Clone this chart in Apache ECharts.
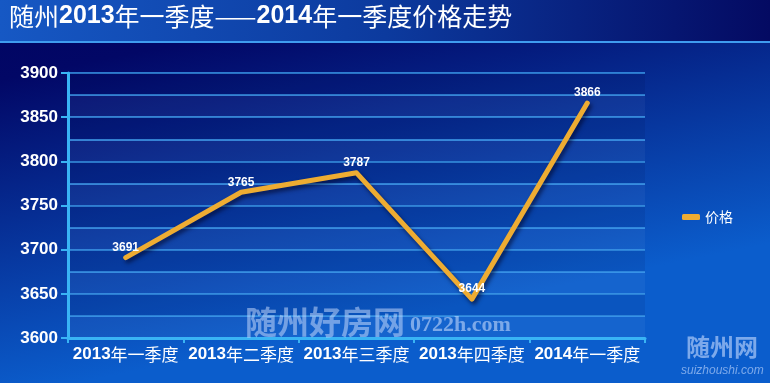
<!DOCTYPE html>
<html>
<head>
<meta charset="utf-8">
<script src="https://cdn.jsdelivr.net/npm/echarts@6/dist/echarts.min.js"></script>
<style>html,body{margin:0;padding:0;background:#000;}#c{width:770px;height:383px;}</style>
</head>
<body>
<div id="c"></div>
<script>
var categories = ['2013年一季度', '2013年二季度', '2013年三季度', '2013年四季度', '2014年一季度'];
var prices = [3691, 3765, 3787, 3644, 3866];
var seriesName = '价格';
var yMin = 3600, yMax = 3900, yStep = 50;

var chart = echarts.init(document.getElementById('c'));
var fontCJK = '"Noto Sans CJK SC", sans-serif';
var fontNum = '"Liberation Sans", Arial, sans-serif';
var lineColor = '#eeac32';

function splitRich(s) {
  var parts = s.match(/\d+|[^\d]+/g);
  return parts.map(function (p) { return /^\d+$/.test(p) ? '{b|' + p + '}' : '{n|' + p + '}'; }).join('');
}

chart.setOption({
  animation: false,
  backgroundColor: {
    type: 'linear', x: 0, y: 0, x2: 0.1, y2: 1,
    colorStops: [
      { offset: 0, color: '#010461' },
      { offset: 0.2, color: '#020766' },
      { offset: 1, color: '#0b5dcc' }
    ]
  },
  graphic: [
    {
      type: 'rect', shape: { x: 0, y: 0, width: 770, height: 42 }, z: -1,
      style: {
        fill: {
          type: 'linear', x: 0, y: 0, x2: 1, y2: 0,
          colorStops: [
            { offset: 0, color: '#1658c4' },
            { offset: 0.5, color: '#0c3a9e' },
            { offset: 1, color: '#040a62' }
          ]
        }
      }
    },
    { type: 'rect', shape: { x: 0, y: 41, width: 770, height: 2 }, z: -1, style: { fill: '#3f9cf0' } },
    {
      type: 'text', left: 9, top: 4,
      style: {
        text: splitRich('随州2013年一季度——2014年一季度价格走势'),
        rich: {
          b: { fontFamily: fontNum, fontWeight: 'bold', fontSize: 25, fill: '#ffffff' },
          n: { fontFamily: fontCJK, fontSize: 25, fill: '#ffffff' }
        }
      }
    },
    {
      type: 'text', left: 245, top: 306, z: 100,
      style: { text: '随州好房网', fontFamily: fontCJK, fontWeight: 'bold', fontSize: 32, fill: 'rgba(210,225,255,0.5)' }
    },
    {
      type: 'text', left: 410, top: 314, z: 100,
      style: { text: '0722h.com', fontFamily: '"Liberation Serif", serif', fontWeight: 'bold', fontSize: 22, fill: 'rgba(210,225,255,0.55)' }
    },
    {
      type: 'text', left: 686, top: 335, z: 100,
      style: { text: '随州网', fontFamily: fontCJK, fontWeight: 'bold', fontSize: 24, fill: 'rgba(200,220,255,0.6)' }
    },
    {
      type: 'text', left: 681, top: 365, z: 100,
      style: { text: 'suizhoushi.com', fontFamily: fontNum, fontStyle: 'italic', fontSize: 12, fill: 'rgba(200,220,255,0.6)' }
    }
  ],
  legend: {
    data: [seriesName],
    orient: 'vertical',
    left: 677, top: 205,
    icon: 'roundRect',
    itemWidth: 18, itemHeight: 6, itemGap: 10,
    itemStyle: { color: lineColor, opacity: 1, borderWidth: 0 },
    textStyle: { color: '#ffffff', fontFamily: fontCJK, fontSize: 14 }
  },
  grid: { left: 68, right: 125, top: 73, bottom: 45, containLabel: false },
  xAxis: {
    type: 'category',
    data: categories,
    boundaryGap: true,
    axisLine: { show: true, lineStyle: { color: '#39b4f5', width: 3 } },
    axisTick: { show: true, length: 5, lineStyle: { color: '#39b4f5', width: 2 } },
    axisLabel: {
      interval: 0, margin: 8,
      formatter: function (v) { return splitRich(v); },
      rich: {
        b: { fontFamily: fontNum, fontWeight: 'bold', fontSize: 17, color: '#ffffff' },
        n: { fontFamily: fontCJK, fontSize: 17, color: '#ffffff' }
      }
    },
    splitLine: { show: false }
  },
  yAxis: [
    {
      type: 'value', min: yMin, max: yMax, interval: yStep,
      axisLine: { show: true, lineStyle: { color: '#39b4f5', width: 3 } },
      axisTick: { show: true, length: 7, lineStyle: { color: '#39b4f5', width: 2 } },
      axisLabel: {
        color: '#ffffff', fontFamily: fontNum, fontWeight: 'bold', fontSize: 17, margin: 10,
        formatter: function (v) { return String(v); }
      },
      splitLine: { show: true, lineStyle: { color: '#3c9ff0', width: 1.5 } },
      minorTick: { show: false, splitNumber: 2 },
      minorSplitLine: { show: true, lineStyle: { color: '#3c9ff0', width: 1.5 } }
    },
    {
      type: 'value', min: yMin, max: yMax, interval: yStep / 2, position: 'left',
      axisLine: { show: false }, axisTick: { show: false }, axisLabel: { show: false },
      splitLine: { show: false },
      splitArea: { show: true, areaStyle: { color: ['rgba(255,255,255,0.045)', 'rgba(0,0,40,0.08)'] } }
    }
  ],
  series: [
    {
      name: seriesName,
      type: 'line',
      data: prices,
      symbol: 'circle',
      symbolSize: 2,
      showSymbol: true,
      lineStyle: {
        color: lineColor, width: 5, cap: 'round', join: 'round',
        shadowColor: 'rgba(0,0,30,0.6)', shadowBlur: 4, shadowOffsetX: 2, shadowOffsetY: 3
      },
      itemStyle: { color: 'rgba(0,0,0,0)', borderWidth: 0 },
      label: {
        show: true, position: 'top', distance: 3,
        color: '#ffffff', fontFamily: fontNum, fontWeight: 'bold', fontSize: 12
      },
      labelLayout: { hideOverlap: false },
      z: 5
    }
  ]
});
</script>
</body>
</html>
